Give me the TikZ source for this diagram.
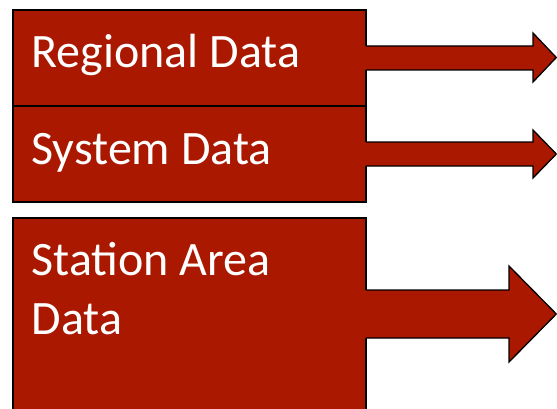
\documentclass[tikz,border=0pt]{standalone}
\usepackage{fontspec}
\setmainfont{Carlito}
\definecolor{boxred}{RGB}{170,24,0}
\tikzset{
  databox/.style={draw=black, fill=boxred, line width=1.3pt, inner sep=0pt, outer sep=0pt, anchor=south west},
  boxlabel/.style={text=white, inner sep=0pt, outer sep=0pt, anchor=base west, font=\fontsize{48}{57}\selectfont},
  arrowfill/.style={fill=boxred},
  arrowline/.style={draw=black, line width=1.3pt, line join=miter},
}
\begin{document}
\begin{tikzpicture}[x=1pt,y=1pt]
\useasboundingbox (0,0) rectangle (557,408);
\clip (0,0) rectangle (557,408);
% boxes
\node[databox, minimum width=353pt, minimum height=96pt] (reg) at (13,302) {};
\node[databox, minimum width=353pt, minimum height=96pt] (sys) at (13,206) {};
\node[databox, minimum width=353pt, minimum height=200pt] (sta) at (13,-10) {};
% labels
\node[boxlabel] (regt) at (31.5,340) {Regional Data};
\node[boxlabel] (syst) at (31.5,244) {System Data};
\node[boxlabel] (stat1) at (31.5,133) {Station Area};
\node[boxlabel] (stat2) at (31.5,74) {Data};
% arrow 1
\fill[arrowfill] (364,362) -- (533,362) -- (533,375) -- (556.3,350.5) -- (533,326) -- (533,338) -- (364,338) -- cycle;
\draw[arrowline] (366,362) -- (533,362) -- (533,375) -- (556.3,350.5) -- (533,326) -- (533,338) -- (366,338);
% arrow 2
\fill[arrowfill] (364,266) -- (533,266) -- (533,278) -- (556.3,254) -- (533,230) -- (533,242) -- (364,242) -- cycle;
\draw[arrowline] (366,266) -- (533,266) -- (533,278) -- (556.3,254) -- (533,230) -- (533,242) -- (366,242);
% arrow 3
\fill[arrowfill] (364,118) -- (509,118) -- (509,142) -- (556.3,94) -- (509,46) -- (509,70) -- (364,70) -- cycle;
\draw[arrowline] (366,118) -- (509,118) -- (509,142) -- (556.3,94) -- (509,46) -- (509,70) -- (366,70);
\end{tikzpicture}
\end{document}
